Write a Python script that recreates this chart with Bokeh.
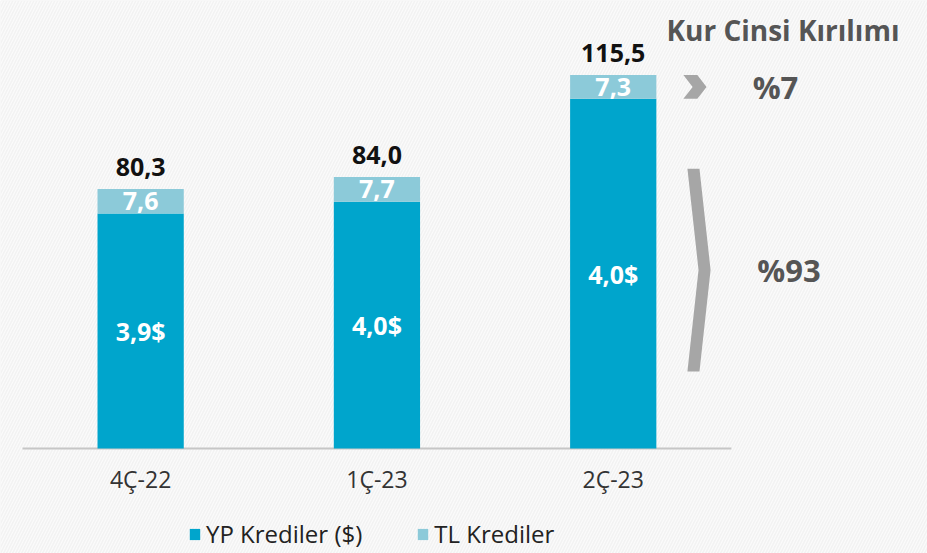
from bokeh.plotting import figure
from bokeh.models import (Range1d, FixedTicker, LabelSet, ColumnDataSource,
                          Legend, LegendItem, Label)
from bokeh.core.properties import value
from bokeh.embed import file_html
from bokeh.resources import INLINE

# ---- data ----
categories = ["4Ç-22", "1Ç-23", "2Ç-23"]
tl_values = [7.6, 7.7, 7.3]
totals = [80.3, 84.0, 115.5]
yp_values = [round(t - tl, 1) for t, tl in zip(totals, tl_values)]
yp_usd_labels = ["3,9$", "4,0$", "4,0$"]
share_labels = ["%7", "%93"]
title_text = "Kur Cinsi Kırılımı"
series_names = ["YP Krediler ($)", "TL Krediler"]

YP_COLOR = "#00a5cc"
TL_COLOR = "#8ccad9"
BG = "#f2f2f2"
FONT = "Open Sans"

def fmt(v):
    return f"{v:.1f}".replace(".", ",")

xs = [i + 0.5 for i in range(len(categories))]
src = ColumnDataSource(dict(
    x=xs, yp=yp_values, tl=tl_values, total=totals,
    total_txt=[fmt(v) for v in totals],
    tl_txt=[fmt(v) for v in tl_values],
    tl_mid=[a + b / 2 for a, b in zip(yp_values, tl_values)],
    yp_mid=[a / 2 for a in yp_values],
    yp_txt=yp_usd_labels,
))

W, H = 927, 553
XR = (-0.0931, 3.830)
YR = (-32.48, 138.57)
p = figure(width=W, height=H, output_backend="svg", toolbar_location=None,
           x_range=Range1d(*XR), y_range=Range1d(*YR),
           min_border_left=0, min_border_right=0, min_border_top=0,
           min_border_bottom=0)
p.background_fill_color = BG
p.border_fill_color = BG
p.outline_line_color = None
p.grid.visible = False
p.yaxis.visible = False

# faint diagonal stripe texture of the background
p.quad(left=[XR[0]], right=[XR[1]], bottom=[YR[0]], top=[YR[1]],
       fill_color=BG, line_width=0, hatch_pattern="/", hatch_color="#fbfbfb",
       hatch_weight=1.2, hatch_scale=6, level="underlay")

ax = p.xaxis[0]
ax.fixed_location = 0
ax.ticker = FixedTicker(ticks=xs)
ax.major_label_overrides = {x: c for x, c in zip(xs, categories)}
ax.axis_line_color = None
ax.major_tick_line_color = None
ax.minor_tick_line_color = None
ax.major_tick_out = 0
ax.major_tick_in = 0
ax.major_label_standoff = 15
ax.major_label_text_font = FONT
ax.major_label_text_font_size = "23px"
ax.major_label_text_color = "#333333"

# baseline
p.segment(x0=[0], y0=[0], x1=[len(categories)], y1=[0],
          line_color="#c6c6c6", line_width=2)

rs = p.vbar_stack(["yp", "tl"], x="x", width=0.365, source=src,
                  color=[YP_COLOR, TL_COLOR], line_width=0)

# labels
p.add_layout(LabelSet(x="x", y="total", text="total_txt", source=src,
                      text_align="center", text_baseline="alphabetic",
                      y_offset=13, text_font=value(FONT),
                      text_font_style="bold", text_font_size="25px",
                      text_color="#111111"))
p.add_layout(LabelSet(x="x", y="tl_mid", text="tl_txt", source=src,
                      text_align="center", text_baseline="middle",
                      text_font=value(FONT), text_font_style="bold",
                      text_font_size="25px", text_color="white"))
p.add_layout(LabelSet(x="x", y="yp_mid", text="yp_txt", source=src,
                      text_align="center", text_baseline="middle",
                      text_font=value(FONT), text_font_style="bold",
                      text_font_size="25px", text_color="white"))

# right side breakdown annotation (relative to last bar)
yp3, tl3, tot3 = yp_values[-1], tl_values[-1], totals[-1]
x0, th, tip = 2.797, 0.059, 2.895
top, bot = tot3, yp3
mid = (top + bot) / 2
p.patch([x0, x0 + th, tip, x0 + th, x0, tip - th],
        [top, top, mid, bot, bot, mid], fill_color="#a6a6a6", line_width=0)

bx0, bth, btip = 2.814, 0.051, 2.912
btop, bbot = 0.80 * yp3, 0.22 * yp3
bmid = (btop + bbot) / 2
p.patch([bx0, bx0 + bth, btip, bx0 + bth, bx0, btip - bth],
        [btop, btop, bmid, bbot, bbot, bmid], fill_color="#a6a6a6", line_width=0)

p.add_layout(Label(x=3.09, y=mid, text=share_labels[0], text_align="left",
                   text_baseline="middle", text_font=FONT,
                   text_font_style="bold", text_font_size="31px",
                   text_color="#555555"))
p.add_layout(Label(x=3.11, y=bmid, text=share_labels[1], text_align="left",
                   text_baseline="middle", text_font=FONT,
                   text_font_style="bold", text_font_size="31px",
                   text_color="#555555"))
p.add_layout(Label(x=2.725, y=129.3, text=title_text, text_align="left",
                   text_baseline="alphabetic", text_font=FONT,
                   text_font_style="bold", text_font_size="28px",
                   text_color="#555555"))

legend = Legend(items=[LegendItem(label=series_names[0], renderers=[rs[0]]),
                       LegendItem(label=series_names[1], renderers=[rs[1]])],
                orientation="horizontal", location=(188, 3),
                background_fill_alpha=0, border_line_alpha=0,
                glyph_width=13, glyph_height=14, label_standoff=5,
                spacing=54, padding=0, margin=0,
                label_text_font=FONT, label_text_font_size="24px",
                label_text_color="#222222")
p.add_layout(legend, "center")

open("out.html", "w").write(file_html(p, INLINE))
